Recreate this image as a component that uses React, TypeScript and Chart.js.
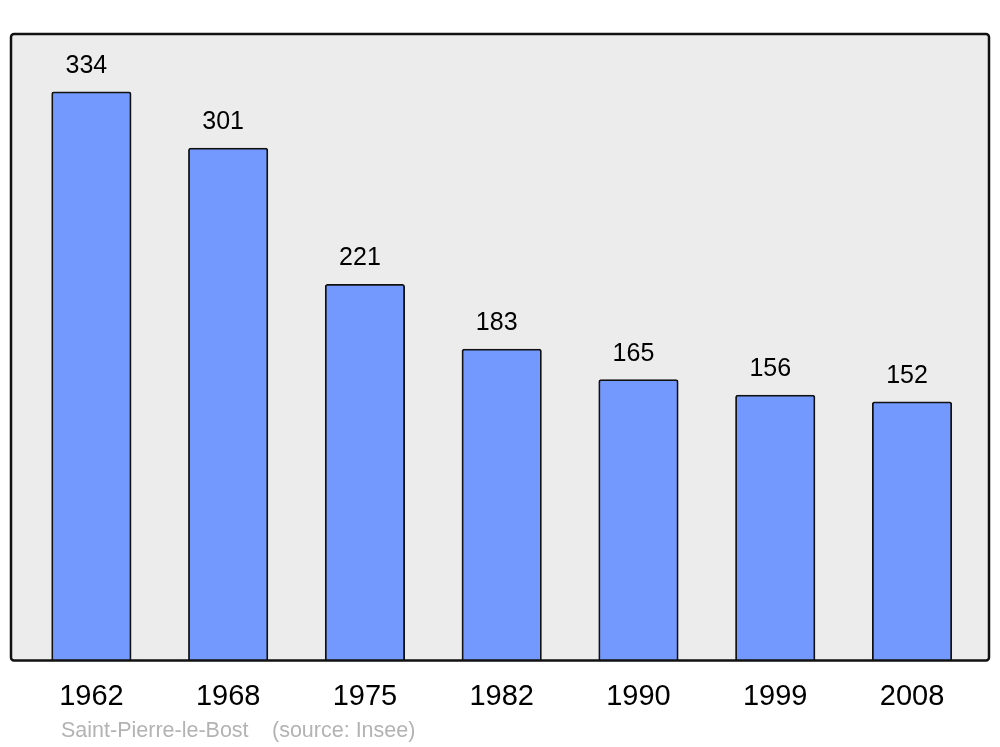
import React, { useEffect, useRef } from "react";
import { Chart, registerables } from "chart.js";

Chart.register(...registerables);

const years = ["1962", "1968", "1975", "1982", "1990", "1999", "2008"];
const population = [334, 301, 221, 183, 165, 156, 152];
const townName = "Saint-Pierre-le-Bost";
const sourceText = "(source: Insee)";

const FONT = "'Liberation Sans', Arial, sans-serif";

const framePlugin = {
  id: "frame",
  beforeDatasetsDraw(chart: any) {
    const { ctx, chartArea } = chart;
    ctx.save();
    ctx.fillStyle = "#ececec";
    const x = 11, y = 34, w = 978, h = chartArea.bottom - 34;
    ctx.beginPath();
    (ctx as any).roundRect(x, y, w, h, 3);
    ctx.fill();
    ctx.restore();
  },
  afterDatasetsDraw(chart: any) {
    const { ctx, chartArea } = chart;
    ctx.save();
    const x = 11, y = 34, w = 978, h = chartArea.bottom - 34;
    ctx.strokeStyle = "#111";
    ctx.lineWidth = 2.5;
    ctx.beginPath();
    (ctx as any).roundRect(x, y, w, h, 3);
    ctx.stroke();

    // value labels
    const meta = chart.getDatasetMeta(0);
    ctx.fillStyle = "#000";
    ctx.font = `25px ${FONT}`;
    ctx.textAlign = "center";
    ctx.textBaseline = "alphabetic";
    meta.data.forEach((bar: any, i: number) => {
      ctx.fillText(String(population[i]), bar.x - 5, bar.y - 19);
    });

    // footer
    ctx.fillStyle = "#b3b3b3";
    ctx.font = `21.5px ${FONT}`;
    ctx.textAlign = "left";
    ctx.fillText(townName, 61, 737);
    ctx.fillText(sourceText, 272, 737);
    ctx.restore();
  },
};

export default function App() {
  const ref = useRef<HTMLCanvasElement>(null);
  useEffect(() => {
    if (!ref.current) return;
    const chart = new Chart(ref.current, {
      type: "bar",
      data: {
        labels: years,
        datasets: [
          {
            data: population,
            backgroundColor: "#7399ff",
            borderColor: "#111",
            borderWidth: 1.8,
            borderRadius: 2.5,
            borderSkipped: "start",
            barThickness: 79.5,
          },
        ],
      },
      options: {
        animation: false,
        responsive: false,
        layout: { padding: { left: 23, right: 19.6, top: 34, bottom: 13.6 } },
        plugins: {
          legend: { display: false },
          tooltip: { enabled: false },
        },
        scales: {
          x: {
            grid: { display: false, drawTicks: false },
            border: { display: false },
            ticks: {
              color: "#000",
              font: { family: FONT, size: 29 },
              padding: 19,
              maxRotation: 0,
            },
          },
          y: {
            display: false,
            min: 0,
            max: 368,
          },
        },
      },
      plugins: [framePlugin],
    });
    return () => chart.destroy();
  }, []);
  return (
    <div style={{ position: "fixed", left: 0, top: 0, width: 1000, height: 747, background: "#fff" }}>
      <canvas ref={ref} width={1000} height={747} />
    </div>
  );
}
